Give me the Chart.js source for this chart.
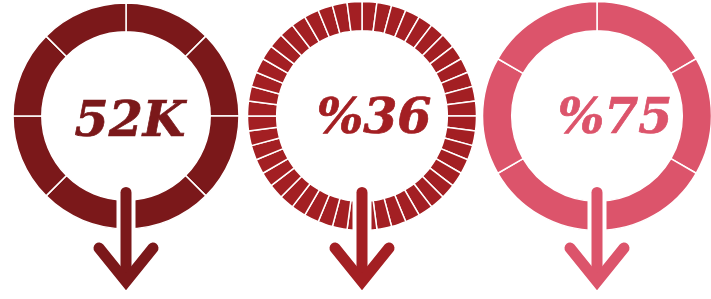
<!DOCTYPE html>
<html>
<head>
<meta charset="utf-8">
<script src="https://cdn.jsdelivr.net/npm/chart.js@4"></script>
<style>
  html, body { margin: 0; padding: 0; background: #fff; overflow: hidden; }
  body { width: 711px; height: 299px; position: relative; }
  .ring { position: absolute; top: 0; width: 240px; height: 299px; }
  .label {
    position: absolute; width: 200px; text-align: center;
    font: italic bold 49px "DejaVu Serif", serif; line-height: 49px;
    white-space: nowrap;
    -webkit-text-stroke: 0.7px currentColor;
  }
</style>
</head>
<body>
<div class="ring" id="ring1"><canvas id="c1"></canvas></div>
<div class="ring" id="ring2"><canvas id="c2"></canvas></div>
<div class="ring" id="ring3"><canvas id="c3"></canvas></div>
<div class="label" id="l1"></div>
<div class="label" id="l2"></div>
<div class="label" id="l3"></div>
<script>
const ringLabels = ["52K", "%36", "%75"];
const ringSegments1 = [1, 1, 1, 1, 1, 1, 1, 1];
const ringSegments2 = [
  1, 1, 1, 1, 1, 1, 1, 1, 1, 1, 1, 1,
  1, 1, 1, 1, 1, 1, 1, 1, 1, 1, 1, 1,
  1, 1, 1, 1, 1, 1, 1, 1, 1, 1, 1, 1,
  1, 1, 1, 1, 1, 1, 1, 1, 1, 1, 1, 1
];
const ringSegments3 = [1, 1, 1, 1, 1, 1];

// look of each ring: centre, radius, colour, label placement
const rings = [
  { id: "c1", box: "ring1", data: ringSegments1, cx: 125.5, cy: 116, r: 113, color: "#7b181a", labelX: 130, baseline: 136 },
  { id: "c2", box: "ring2", data: ringSegments2, cx: 362, cy: 116, r: 114.5, color: "#a31f23", labelX: 374, baseline: 133 },
  { id: "c3", box: "ring3", data: ringSegments3, cx: 596.5, cy: 116, r: 114.5, color: "#dc546b", labelX: 615, baseline: 133 },
];

const arrowPlugin = {
  id: "arrow",
  afterDatasetsDraw(chart, args, opts) {
    const arc = chart.getDatasetMeta(0).data[0];
    if (!arc) return;
    const ctx = chart.ctx;
    const x = arc.x, y = arc.y;
    ctx.save();
    ctx.lineCap = "round";
    // white gap around the shaft where it crosses the ring
    ctx.strokeStyle = "#fff";
    ctx.lineWidth = 19;
    ctx.beginPath();
    ctx.moveTo(x, y + 76);
    ctx.lineTo(x, y + 125);
    ctx.stroke();
    ctx.strokeStyle = opts.color;
    ctx.lineWidth = 11;
    ctx.beginPath();
    ctx.moveTo(x, y + 76.5);
    ctx.lineTo(x, y + 164);
    ctx.stroke();
    ctx.lineJoin = "miter";
    ctx.beginPath();
    ctx.moveTo(x - 27, y + 132);
    ctx.lineTo(x, y + 165.5);
    ctx.lineTo(x + 27, y + 132);
    ctx.stroke();
    ctx.restore();
  }
};

rings.forEach((ring, i) => {
  const box = document.getElementById(ring.box);
  box.style.left = (ring.cx - 120) + "px";
  const half = ring.r + 0.75;
  new Chart(document.getElementById(ring.id), {
    type: "doughnut",
    data: {
      labels: ring.data.map((_, k) => "segment " + (k + 1)),
      datasets: [{
        data: ring.data,
        backgroundColor: ring.color,
        borderColor: "#fff",
        borderWidth: 1.5,
        hoverOffset: 0,
      }],
    },
    options: {
      responsive: true,
      maintainAspectRatio: false,
      animation: false,
      events: [],
      cutout: "74.5%",
      layout: {
        padding: {
          left: 120 - half,
          right: 120 - half,
          top: ring.cy - half,
          bottom: 299 - (ring.cy + half),
        },
      },
      plugins: {
        legend: { display: false },
        tooltip: { enabled: false },
        arrow: { color: ring.color },
      },
    },
    plugins: [arrowPlugin],
  });

  const label = document.getElementById("l" + (i + 1));
  label.textContent = ringLabels[i];
  label.style.color = ring.color;
  label.style.left = (ring.labelX - 100) + "px";
  label.style.top = (ring.baseline - 41.5) + "px";
});
</script>
</body>
</html>
